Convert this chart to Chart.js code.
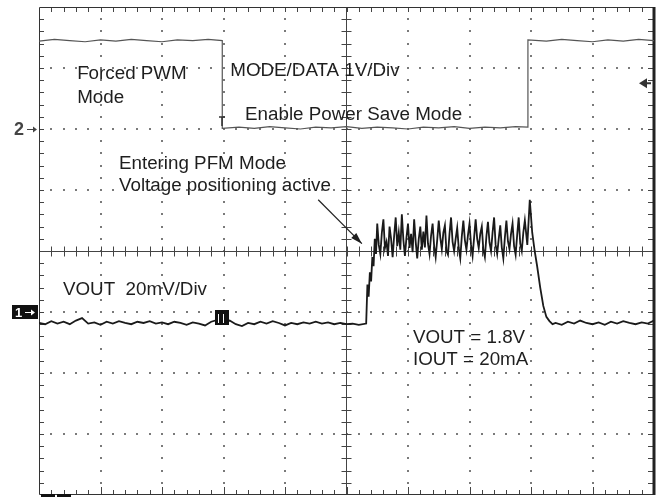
<!DOCTYPE html>
<html>
<head>
<meta charset="utf-8">
<script src="https://cdn.jsdelivr.net/npm/chart.js@4.4.0/dist/chart.umd.min.js"></script>
<style>
  body { margin: 0; background: #fff; }
  #wrap { width: 664px; height: 497px; }
</style>
</head>
<body>
<div id="wrap"><canvas id="scope"></canvas></div>
<script>
// screen is 10 x 8 divisions, x 0..10, y -4..4 (divisions)

// MODE/DATA trace (1V/Div)
const modeX = [0, 0.25, 0.5, 0.75, 1.0, 1.25, 1.5, 1.75, 2.0, 2.25, 2.5, 2.75, 2.98,
  2.98, 3.25, 3.5, 3.75, 4.0, 4.25, 4.5, 4.75, 5.0, 5.25, 5.5, 5.75, 6.0, 6.25, 6.5, 6.75, 7.0, 7.25, 7.5, 7.75, 7.95,
  7.95, 8.25, 8.5, 8.75, 9.0, 9.25, 9.5, 9.75, 10];
const modeY = [3.44, 3.47, 3.45, 3.43, 3.46, 3.44, 3.47, 3.45, 3.43, 3.46, 3.45, 3.47, 3.45,
  2.01, 2.03, 2.01, 2.04, 2.02, 2.00, 2.03, 2.02, 2.04, 2.01, 2.03, 2.02, 2.00, 2.03, 2.02, 2.04, 2.01, 2.03, 2.02, 2.04, 2.03,
  3.46, 3.44, 3.47, 3.45, 3.43, 3.46, 3.44, 3.47, 3.45];

// VOUT trace (20mV/Div)
const voutX = [
  0.0, 0.1, 0.2, 0.3, 0.4, 0.5, 0.6, 0.7, 0.8, 0.9, 1.0, 1.1, 1.2, 1.3, 1.4, 1.5, 1.6, 1.7, 1.8, 1.9,
  2.0, 2.1, 2.2, 2.3, 2.4, 2.5, 2.6, 2.7, 2.8, 2.9, 3.0, 3.1, 3.2, 3.3, 3.4, 3.5, 3.6, 3.7, 3.8, 3.9,
  4.0, 4.1, 4.2, 4.3, 4.4, 4.5, 4.6, 4.7, 4.8, 4.9, 5.0, 5.1, 5.2, 5.32,
  5.34, 5.36, 5.38, 5.40, 5.42, 5.44, 5.46, 5.48,
  5.500, 5.525, 5.550, 5.575, 5.600, 5.625, 5.650, 5.675, 5.700, 5.725, 5.750, 5.775,
  5.800, 5.825, 5.850, 5.875, 5.900, 5.925, 5.950, 5.975, 6.000, 6.025, 6.050, 6.075,
  6.100, 6.125, 6.150, 6.175, 6.200, 6.225, 6.250, 6.275, 6.300, 6.325, 6.350, 6.375,
  6.400, 6.425, 6.450, 6.475, 6.500, 6.525, 6.550, 6.575, 6.600, 6.625, 6.650, 6.675,
  6.700, 6.725, 6.750, 6.775, 6.800, 6.825, 6.850, 6.875, 6.900, 6.925, 6.950, 6.975,
  7.000, 7.025, 7.050, 7.075, 7.100, 7.125, 7.150, 7.175, 7.200, 7.225, 7.250, 7.275,
  7.300, 7.325, 7.350, 7.375, 7.400, 7.425, 7.450, 7.475, 7.500, 7.525, 7.550, 7.575,
  7.600, 7.625, 7.650, 7.675, 7.700, 7.725, 7.750, 7.775, 7.800, 7.825, 7.850, 7.875, 7.900,
  7.94, 7.98, 8.02, 8.06, 8.10, 8.15, 8.20, 8.25, 8.30, 8.35,
  8.4, 8.5, 8.6, 8.7, 8.8, 8.9, 9.0, 9.1, 9.2, 9.3, 9.4, 9.5, 9.6, 9.7, 9.8, 9.9, 10.0];
const voutY = [
  -1.18, -1.20, -1.15, -1.19, -1.16, -1.20, -1.14, -1.10, -1.19, -1.17, -1.21, -1.16, -1.19, -1.15, -1.18, -1.20, -1.16, -1.18, -1.15, -1.19,
  -1.17, -1.20, -1.16, -1.18, -1.21, -1.17, -1.19, -1.22, -1.16, -1.13, -1.18, -1.14, -1.20, -1.23, -1.18, -1.20, -1.16, -1.19, -1.15, -1.18,
  -1.22, -1.18, -1.20, -1.17, -1.19, -1.16, -1.19, -1.17, -1.20, -1.18, -1.20, -1.19, -1.21, -1.19,
  -0.55, -0.75, -0.35, -0.50, -0.10, -0.25, 0.20, -0.05,
  0.45, 0.10, -0.05, 0.30, 0.52, 0.05, 0.15, -0.08, 0.40, 0.20, -0.10, 0.25,
  0.55, 0.08, 0.30, 0.02, 0.60, 0.18, -0.08, 0.22, 0.45, 0.05, 0.28, -0.02,
  0.52, 0.15, -0.12, 0.20, 0.40, 0.02, 0.32, 0.06, 0.58, 0.12, -0.05, 0.25,
  0.45, 0.08, -0.10, 0.18, 0.50, 0.22, 0.03, 0.30, 0.42, 0.00, -0.06, 0.28,
  0.55, 0.15, 0.00, 0.20, 0.38, 0.05, -0.12, 0.24, 0.50, 0.18, 0.02, 0.26,
  0.45, 0.10, -0.08, 0.22, 0.52, 0.20, 0.05, 0.28, 0.40, 0.02, -0.10, 0.24,
  0.48, 0.14, 0.00, 0.30, 0.55, 0.10, -0.05, 0.20, 0.42, 0.06, -0.12, 0.22,
  0.50, 0.16, 0.03, 0.28, 0.45, 0.08, -0.06, 0.26, 0.55, 0.12, 0.00, 0.30, 0.50,
  0.10, 0.84, 0.30, 0.00, -0.25, -0.60, -0.90, -1.08, -1.15, -1.20,
  -1.18, -1.21, -1.16, -1.19, -1.14, -1.18, -1.20, -1.17, -1.21, -1.16, -1.19, -1.15, -1.18, -1.20, -1.17, -1.19, -1.14];

const labels = [
  { text: 'Forced PWM', x: 0.62, y: 2.82 },
  { text: 'Mode', x: 0.62, y: 2.43 },
  { text: 'MODE/DATA 1V/Div', x: 3.11, y: 2.87 },
  { text: 'Enable Power Save Mode', x: 3.35, y: 2.15 },
  { text: 'Entering PFM Mode', x: 1.30, y: 1.34 },
  { text: 'Voltage positioning active', x: 1.30, y: 0.98 },
  { text: 'VOUT  20mV/Div', x: 0.39, y: -0.72 },
  { text: 'VOUT = 1.8V', x: 6.08, y: -1.51 },
  { text: 'IOUT = 20mA', x: 6.08, y: -1.87 }
];

function pts(xs, ys) {
  return xs.map((v, i) => ({ x: v, y: ys[i] }));
}

const scopeGrid = {
  id: 'scopeGrid',
  beforeDatasetsDraw(chart) {
    const { ctx, chartArea: a, scales: { x, y } } = chart;
    ctx.save();
    // dotted graticule
    ctx.fillStyle = '#7a7a7a';
    for (let gx = 1; gx < 10; gx++) {
      if (gx === 5) continue;
      const px = Math.round(x.getPixelForValue(gx));
      for (let s = 1; s < 40; s++) {
        const py = Math.round(y.getPixelForValue(-4 + s * 0.2));
        ctx.fillRect(px - 1, py - 1, 2, 2);
      }
    }
    for (let gy = -3; gy <= 3; gy++) {
      if (gy === 0) continue;
      const py = Math.round(y.getPixelForValue(gy));
      for (let s = 1; s < 50; s++) {
        const px = Math.round(x.getPixelForValue(s * 0.2));
        ctx.fillRect(px - 1, py - 1, 2, 2);
      }
    }
    // centre axes
    ctx.strokeStyle = '#444';
    ctx.lineWidth = 1;
    const cx = Math.round(x.getPixelForValue(5)) - 0.5;
    const cy = Math.round(y.getPixelForValue(0)) + 0.5;
    ctx.beginPath();
    ctx.moveTo(cx, a.top); ctx.lineTo(cx, a.bottom);
    ctx.moveTo(a.left, cy); ctx.lineTo(a.right, cy);
    for (let s = 1; s < 40; s++) {
      const py = Math.round(y.getPixelForValue(-4 + s * 0.2)) + 0.5;
      ctx.moveTo(cx - 5, py); ctx.lineTo(cx + 5, py);
      ctx.moveTo(a.left, py); ctx.lineTo(a.left + 5, py);
      ctx.moveTo(a.right, py); ctx.lineTo(a.right - 6, py);
    }
    for (let s = 1; s < 50; s++) {
      const px = Math.round(x.getPixelForValue(s * 0.2)) + 0.5;
      ctx.moveTo(px, cy - 5); ctx.lineTo(px, cy + 5);
      ctx.moveTo(px, a.top); ctx.lineTo(px, a.top + 5);
      ctx.moveTo(px, a.bottom); ctx.lineTo(px, a.bottom - (s % 5 === 0 ? 8 : 5));
    }
    ctx.stroke();
    // frame
    ctx.strokeStyle = '#333';
    ctx.beginPath();
    ctx.moveTo(a.right, a.top + 0.5); ctx.lineTo(a.left + 0.5, a.top + 0.5);
    ctx.lineTo(a.left + 0.5, a.bottom - 0.5); ctx.lineTo(a.right, a.bottom - 0.5);
    ctx.stroke();
    ctx.lineWidth = 3;
    ctx.strokeStyle = '#222';
    ctx.beginPath();
    ctx.moveTo(a.right, a.top); ctx.lineTo(a.right, a.bottom);
    ctx.stroke();
    ctx.restore();
  },
  afterDatasetsDraw(chart) {
    const { ctx, chartArea: a, scales: { x, y } } = chart;
    ctx.save();
    // text
    ctx.fillStyle = '#1e1e1e';
    ctx.font = '18.8px "Liberation Sans", Arial, sans-serif';
    ctx.textBaseline = 'alphabetic';
    for (const l of labels) {
      ctx.fillText(l.text, x.getPixelForValue(l.x), y.getPixelForValue(l.y));
    }
    // arrow to the PFM ripple
    const x0 = x.getPixelForValue(4.54), y0 = y.getPixelForValue(0.84);
    const x1 = x.getPixelForValue(5.25), y1 = y.getPixelForValue(0.12);
    ctx.strokeStyle = '#222';
    ctx.lineWidth = 1.2;
    ctx.beginPath(); ctx.moveTo(x0, y0); ctx.lineTo(x1, y1); ctx.stroke();
    const ang = Math.atan2(y1 - y0, x1 - x0);
    ctx.beginPath();
    ctx.moveTo(x1, y1);
    ctx.lineTo(x1 - 12 * Math.cos(ang - 0.3), y1 - 12 * Math.sin(ang - 0.3));
    ctx.lineTo(x1 - 12 * Math.cos(ang + 0.3), y1 - 12 * Math.sin(ang + 0.3));
    ctx.closePath(); ctx.fill();

    // channel 2 marker
    const y2 = Math.round(y.getPixelForValue(2)) + 0.5;
    ctx.fillStyle = '#444';
    ctx.font = 'bold 18px "Liberation Sans", Arial, sans-serif';
    ctx.textBaseline = 'middle';
    ctx.fillText('2', 14, y2 + 1);
    ctx.strokeStyle = '#444'; ctx.lineWidth = 1;
    ctx.beginPath(); ctx.moveTo(27, y2); ctx.lineTo(36, y2); ctx.stroke();
    ctx.beginPath(); ctx.moveTo(37, y2); ctx.lineTo(33, y2 - 3); ctx.lineTo(33, y2 + 3); ctx.closePath(); ctx.fill();

    // channel 1 marker
    const y1m = Math.round(y.getPixelForValue(-1));
    ctx.fillStyle = '#111';
    ctx.fillRect(12, y1m - 7, 26, 14);
    ctx.fillStyle = '#fff';
    ctx.font = 'bold 13px "Liberation Sans", Arial, sans-serif';
    ctx.fillText('1', 15, y1m + 1);
    ctx.strokeStyle = '#fff';
    ctx.beginPath(); ctx.moveTo(25, y1m + 0.5); ctx.lineTo(33, y1m + 0.5); ctx.stroke();
    ctx.beginPath(); ctx.moveTo(35, y1m + 0.5); ctx.lineTo(31, y1m - 2.5); ctx.lineTo(31, y1m + 3.5); ctx.closePath(); ctx.fill();

    // trigger level marker on the right
    const yt = y.getPixelForValue(2.75);
    ctx.fillStyle = '#333';
    ctx.beginPath(); ctx.moveTo(a.right - 15, yt); ctx.lineTo(a.right - 7, yt - 5); ctx.lineTo(a.right - 7, yt + 5); ctx.closePath(); ctx.fill();
    ctx.fillRect(a.right - 8, yt - 1, 5, 2);

    // trigger position markers
    const tx = Math.round(x.getPixelForValue(2.98));
    const ty = Math.round(y.getPixelForValue(2.13));
    ctx.strokeStyle = '#333'; ctx.lineWidth = 1.5;
    ctx.beginPath(); ctx.moveTo(tx - 3, ty - 4); ctx.lineTo(tx + 3, ty - 4); ctx.moveTo(tx, ty - 4); ctx.lineTo(tx, ty + 5); ctx.stroke();
    const by = Math.round(y.getPixelForValue(-1.1));
    ctx.fillStyle = '#111';
    ctx.fillRect(tx - 7, by - 8, 14, 15);
    ctx.strokeStyle = '#fff'; ctx.lineWidth = 1;
    ctx.beginPath(); ctx.moveTo(tx - 3.5, by - 4); ctx.lineTo(tx - 3.5, by + 5); ctx.moveTo(tx + 1.5, by - 4); ctx.lineTo(tx + 1.5, by + 5); ctx.stroke();

    // bottom-left ground marks
    ctx.fillStyle = '#111';
    ctx.fillRect(a.left + 2, a.bottom - 1, 14, 3);
    ctx.fillRect(a.left + 18, a.bottom - 1, 14, 3);
    ctx.restore();
  }
};

new Chart(document.getElementById('scope'), {
  type: 'line',
  data: {
    datasets: [
      { label: 'MODE/DATA', data: pts(modeX, modeY), borderColor: '#555', borderWidth: 1.2, pointRadius: 0, tension: 0 },
      { label: 'VOUT', data: pts(voutX, voutY), borderColor: '#1a1a1a', borderWidth: 1.8, pointRadius: 0, tension: 0 }
    ]
  },
  options: {
    responsive: true,
    maintainAspectRatio: false,
    animation: false,
    layout: { padding: { left: 39, top: 7, right: 10, bottom: 2 } },
    plugins: { legend: { display: false }, tooltip: { enabled: false } },
    scales: {
      x: { type: 'linear', min: 0, max: 10, display: false },
      y: { type: 'linear', min: -4, max: 4, display: false }
    }
  },
  plugins: [scopeGrid]
});
</script>
</body>
</html>
